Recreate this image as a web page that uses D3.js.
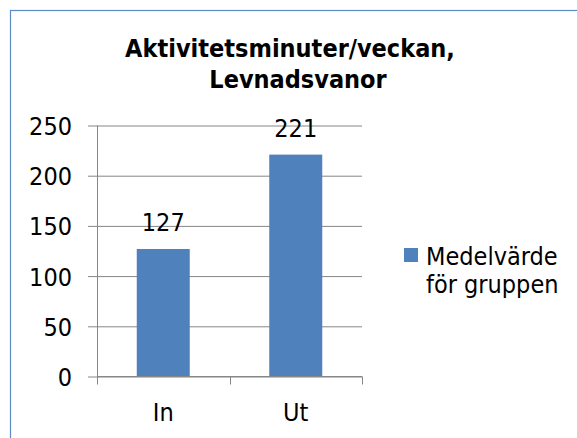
<!DOCTYPE html>
<html><head><meta charset="utf-8">
<script src="https://cdn.jsdelivr.net/npm/d3@7"></script>
<style>
html,body{margin:0;padding:0;background:#fff;}
svg text{font-family:"DejaVu Sans Condensed","DejaVu Sans",sans-serif;font-stretch:condensed;fill:#000;}
</style></head>
<body><svg id="c" width="577" height="438"></svg>
<script>
const categories = ["In", "Ut"];
const values = [127, 221];
const yTicks = [0, 50, 100, 150, 200, 250];
const seriesName = ["Medelvärde", "för gruppen"];
const titleLines = ["Aktivitetsminuter/veckan,", "Levnadsvanor"];

const svg = d3.select("#c");
const barColor = "#4f81bd", gridColor = "#868686";

svg.append("rect").attr("x", 10.5).attr("y", 10.5).attr("width", 620).attr("height", 500)
  .attr("fill", "#fff").attr("stroke", "#5b8bc8").attr("stroke-width", 1.2);

const x = d3.scaleBand().domain(categories).range([97, 362]).padding(0);
const y = d3.scaleLinear().domain([0, 250]).range([376.5, 125.5]);

// title
svg.append("text").attr("x", 290).attr("y", 57).attr("text-anchor", "middle")
  .style("font-weight", "bold").style("font-size", "25px").text(titleLines[0]);
svg.append("text").attr("x", 298).attr("y", 88).attr("text-anchor", "middle")
  .style("font-weight", "bold").style("font-size", "25px").text(titleLines[1]);

// y gridlines + labels
const yAxis = d3.axisLeft(y).tickValues(yTicks).tickSize(274).tickPadding(16);
const gy = svg.append("g").attr("transform", "translate(362,0)").call(yAxis);
gy.select(".domain").remove();
gy.selectAll(".tick line").attr("stroke", gridColor);
gy.selectAll(".tick text").style("font-size", "25px").attr("dy", "0.36em");

// y axis line
svg.append("line").attr("x1", 97.5).attr("x2", 97.5).attr("y1", y(250)).attr("y2", y(0))
  .attr("stroke", gridColor);

// bars
const bw = x.bandwidth() * 0.4;
svg.selectAll("rect.bar").data(values).enter().append("rect").attr("class", "bar")
  .attr("x", (d, i) => x(categories[i]) + x.bandwidth() / 2 - bw / 2)
  .attr("y", d => y(d)).attr("width", bw).attr("height", d => y(0) - y(d))
  .attr("fill", barColor);

// x axis
svg.append("line").attr("x1", 97).attr("x2", 362).attr("y1", y(0)).attr("y2", y(0)).attr("stroke", gridColor);
const bounds = categories.map(c => x(c)).concat([x.range()[1]]);
svg.selectAll("line.xt").data(bounds).enter().append("line").attr("class", "xt")
  .attr("x1", d => Math.round(d) + 0.5).attr("x2", d => Math.round(d) + 0.5)
  .attr("y1", y(0)).attr("y2", y(0) + 8).attr("stroke", gridColor);
const xAxis = d3.axisBottom(x).tickSize(0).tickPadding(0);
const gx = svg.append("g").attr("transform", "translate(0,421)").call(xAxis);
gx.select(".domain").remove();
gx.selectAll(".tick text").style("font-size", "25px").attr("dy", 0).attr("y", 0);

// data labels
svg.selectAll("text.dl").data(values).enter().append("text").attr("class", "dl")
  .attr("x", (d, i) => x(categories[i]) + x.bandwidth() / 2)
  .attr("y", d => y(d) - 18).attr("text-anchor", "middle")
  .style("font-size", "25px").text(d => d);

// legend
svg.append("rect").attr("x", 404).attr("y", 248).attr("width", 14).attr("height", 14).attr("fill", barColor);
svg.selectAll("text.lg").data(seriesName).enter().append("text").attr("class", "lg")
  .attr("x", 426).attr("y", (d, i) => 265 + i * 28).style("font-size", "25px").text(d => d);
</script></body></html>
